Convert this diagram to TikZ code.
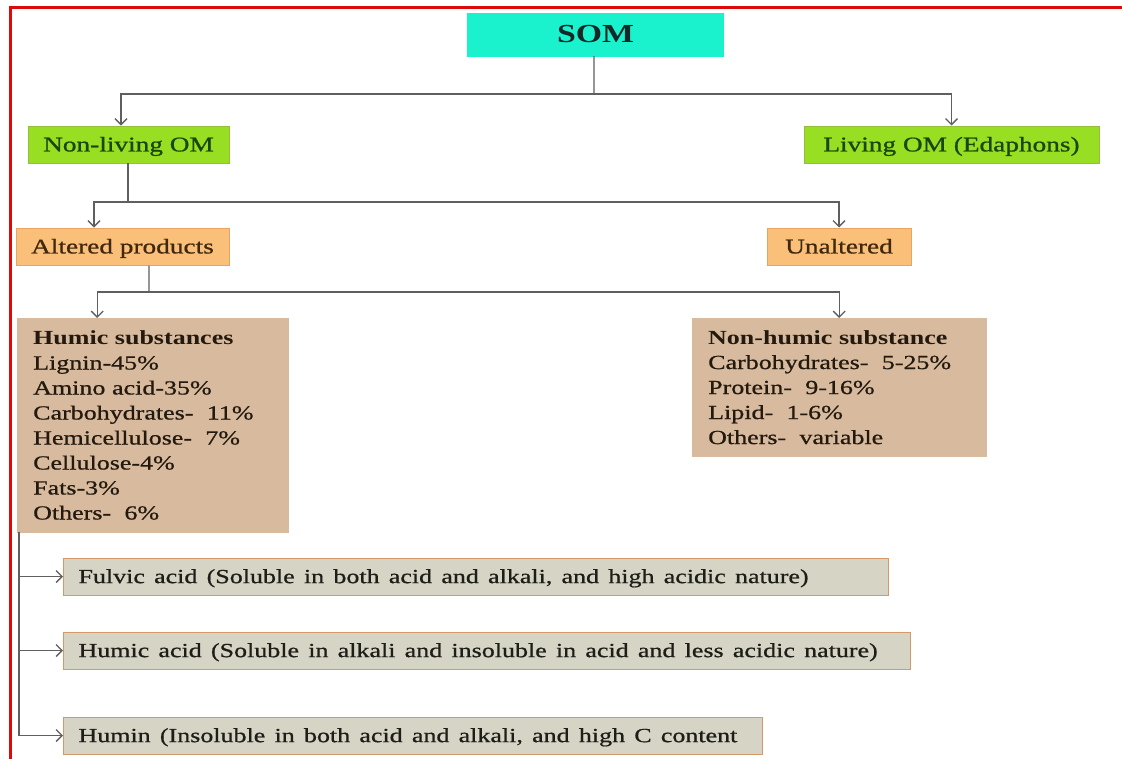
\documentclass[tikz,border=0pt]{standalone}
\usepackage{fontspec}
\setmainfont{Liberation Serif}[FakeStretch=1.3, UprightFeatures={FakeBold=0.8}]
\newfontfamily\somfont{Liberation Serif}[FakeStretch=1.3]
\usetikzlibrary{arrows.meta}
\newcommand\widesp{\spaceskip=9.2bp plus 2bp minus 1bp\relax}
\definecolor{somc}{RGB}{26,242,206}
\definecolor{somtxt}{RGB}{20,40,40}
\definecolor{grn}{RGB}{152,222,34}
\definecolor{grnbd}{RGB}{150,190,60}
\definecolor{grntxt}{RGB}{25,70,10}
\definecolor{org}{RGB}{250,192,122}
\definecolor{orgbd}{RGB}{230,165,100}
\definecolor{orgtxt}{RGB}{65,40,12}
\definecolor{tan}{RGB}{216,187,158}
\definecolor{tantxt}{RGB}{35,25,15}
\definecolor{gry}{RGB}{214,212,196}
\definecolor{grybd}{RGB}{212,152,105}
\definecolor{grytxt}{RGB}{30,30,25}
\definecolor{lne}{RGB}{95,95,95}
\definecolor{frame}{RGB}{222,10,10}
\begin{document}
\begin{tikzpicture}[x=1bp,y=-1bp,
  txt/.style={font=\fontsize{20bp}{25bp}\selectfont},
  onebox/.style={font=\fontsize{21bp}{25bp}\selectfont, inner sep=0pt, line width=1pt, align=center,
     text height=13.9bp, text depth=0pt},
  sombox/.style={inner sep=0pt, fill=somc, draw=somc, minimum width=256bp, minimum height=43bp,
     font=\somfont\fontsize{26bp}{30bp}\selectfont\bfseries, text=somtxt},
  grnbox/.style={onebox, fill=grn, draw=grnbd, text=grntxt, minimum height=37bp},
  orgbox/.style={onebox, fill=org, draw=orgbd, text=orgtxt, minimum height=37bp},
  tanbox/.style={txt, fill=tan, draw=tan, text=tantxt, inner xsep=16bp, inner ysep=0pt, align=left},
  grybox/.style={txt, fill=gry, draw=grybd, line width=1pt, text=grytxt, inner xsep=15bp, inner ysep=0pt,
     align=left, minimum height=37bp, text height=13.2bp, text depth=0pt},
  conn/.style={draw=lne, line width=1.4bp},
  arr/.style={conn, -{Straight Barb[length=6bp,width=12bp,line width=1.3bp]}}
]
\useasboundingbox (0,0) rectangle (1122,759);
\fill[white] (0,0) rectangle (1122,759);
\draw[frame, line width=3bp] (1122,8) -- (10,8) -- (10,759);

\node[sombox] (som) at (595.5,34.5) {SOM};
\node[grnbox, minimum width=201bp] (nonliving) at (128.5,144.5) {Non-living OM};
\node[grnbox, minimum width=295bp] (living) at (951.5,144.5) {Living OM (Edaphons)};
\node[orgbox, minimum width=213bp] (altered) at (122.5,246.5) {Altered products};
\node[orgbox, minimum width=144bp] (unaltered) at (839,246.5) {Unaltered};
\node[tanbox, text width=239bp, minimum height=214bp, anchor=north west] (humic) at (17,318)
  {\textbf{Humic substances}\\Lignin-45\%\\Amino acid-35\%\\Carbohydrates-\ \ 11\%\\Hemicellulose-\ \ 7\%\\Cellulose-4\%\\Fats-3\%\\Others-\ \ 6\%};
\node[tanbox, text width=262bp, minimum height=138bp, anchor=north west] (nonhumic) at (692,318)
  {\textbf{Non-humic substance}\\Carbohydrates-\ \ 5-25\%\\Protein-\ \ 9-16\%\\Lipid-\ \ 1-6\%\\Others-\ \ variable};
\node[grybox, text width=795bp, anchor=west] (fulvic) at (63,576.5)
  {\widesp Fulvic acid (Soluble in both acid and alkali, and high acidic nature)};
\node[grybox, text width=817bp, anchor=west] (humicacid) at (63,650.5)
  {\widesp Humic acid (Soluble in alkali and insoluble in acid and less acidic nature)};
\node[grybox, text width=669bp, anchor=west] (humin) at (63,735.5)
  {\widesp Humin (Insoluble in both acid and alkali, and high C content};

% level 1
\coordinate (j1) at (594,94);
\draw[conn] ([xshift=-1.5bp]som.south) -- (j1);
\draw[arr] (j1) -| ([xshift=-7.5bp]nonliving.north);
\draw[arr] (j1) -| (living.north);
% level 2
\coordinate (j2) at (128,202);
\draw[conn] ([xshift=-0.5bp]nonliving.south) -- (j2);
\draw[arr] (j2) -| ([xshift=-28.5bp]altered.north);
\draw[arr] (j2) -| (unaltered.north);
% level 3
\coordinate (j3) at (149,292);
\draw[conn] ([xshift=26.5bp]altered.south) -- (j3);
\draw[arr] (j3) -| ([xshift=-55.5bp]humic.north);
\draw[arr] (j3) -| (nonhumic.north);
% humic fractions
\coordinate (v0) at (19,532);
\draw[arr] (v0) |- (fulvic.west);
\draw[arr] (v0) |- (humicacid.west);
\draw[arr] (v0) |- (humin.west);
\end{tikzpicture}
\end{document}
